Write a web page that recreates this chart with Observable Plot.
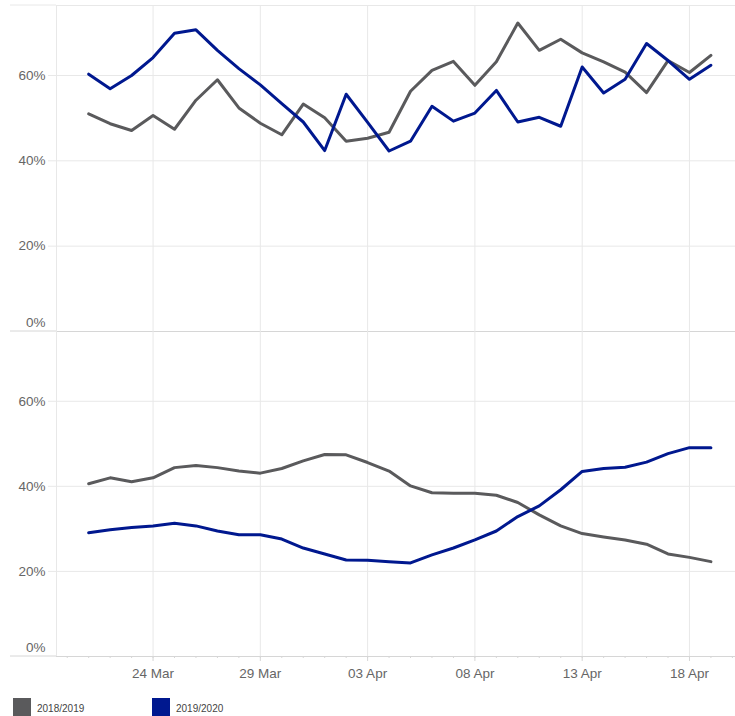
<!DOCTYPE html>
<html><head><meta charset="utf-8">
<script src="https://cdn.jsdelivr.net/npm/d3@7"></script>
<script src="https://cdn.jsdelivr.net/npm/@observablehq/plot@0.6"></script>
<style>
body{margin:0;background:#fff;font-family:"Liberation Sans",Arial,sans-serif;}
#chart{position:relative;width:735px;height:716px;overflow:hidden;background:#fff}
#chart svg{position:absolute;left:0;overflow:visible}
.sw{position:absolute;width:18px;height:18px}
.lt{position:absolute;font-size:10px;line-height:12px;color:#444;white-space:nowrap}
</style>
</head><body><div id="chart"></div>
<script>
// ---- data ----
const dates = ["2020-03-21","2020-03-22","2020-03-23","2020-03-24","2020-03-25","2020-03-26","2020-03-27","2020-03-28","2020-03-29","2020-03-30",
  "2020-03-31","2020-04-01","2020-04-02","2020-04-03","2020-04-04","2020-04-05","2020-04-06","2020-04-07","2020-04-08","2020-04-09",
  "2020-04-10","2020-04-11","2020-04-12","2020-04-13","2020-04-14","2020-04-15","2020-04-16","2020-04-17","2020-04-18","2020-04-19"];
const seriesNames = ["2018/2019","2019/2020"];
const seriesColors = ["#5a5a5c","#00188f"];
const topGray = [51.0,48.7,47.1,50.6,47.4,54.2,59.0,52.4,48.8,46.1,53.3,50.1,44.6,45.3,46.7,56.3,61.2,63.3,57.7,63.2,72.3,65.9,68.5,65.3,63.2,60.8,56.0,63.5,60.7,64.7];
const topBlue = [60.3,56.9,60.0,64.2,69.9,70.7,65.9,61.6,57.8,53.4,49.1,42.4,55.6,49.0,42.3,44.6,52.8,49.3,51.2,56.5,49.1,50.2,48.1,62.0,55.9,59.1,67.5,63.5,59.1,62.4];
const botGray = [40.6,42.0,41.1,42.0,44.4,44.9,44.4,43.6,43.1,44.2,46.0,47.5,47.4,45.6,43.6,40.1,38.5,38.4,38.4,37.9,36.2,33.3,30.7,28.9,28.1,27.4,26.4,24.1,23.3,22.3];
const botBlue = [29.1,29.8,30.3,30.7,31.3,30.7,29.5,28.6,28.6,27.6,25.5,24.1,22.7,22.6,22.3,22.0,23.9,25.5,27.4,29.5,32.9,35.4,39.2,43.5,44.2,44.5,45.7,47.7,49.1,49.1];
const tickDates = ["2020-03-24","2020-03-29","2020-04-03","2020-04-08","2020-04-13","2020-04-18"];
const tickLabels = ["24 Mar","29 Mar","03 Apr","08 Apr","13 Apr","18 Apr"];
const yTicks = [20,40,60];

// ---- build ----
const parse = d3.utcParse("%Y-%m-%d");
const X = dates.map(parse);
const tickX = tickDates.map(parse);
const labelOf = new Map(tickX.map((d,i)=>[+d, tickLabels[i]]));
function rows(g, b){
  return [...X.map((d,i)=>({date:d, v:g[i], s:seriesNames[0]})), ...X.map((d,i)=>({date:d, v:b[i], s:seriesNames[1]}))];
}
const xDomain = [new Date(Date.UTC(2020,2,19,12)), new Date(Date.UTC(2020,3,20,3,30))];
const yDomain = [0, 76.4];
const minorDays = d3.utcDay.range(new Date(Date.UTC(2020,2,20)), new Date(Date.UTC(2020,3,21)));
const font = {fontFamily:"'Liberation Sans', Arial, sans-serif", fontSize:"13.5px", background:"transparent"};
const colorScale = {domain: seriesNames, range: seriesColors};
const grid = "#e8e8e8";
const base = "#d6d6d6";
const pctFmt = d => d + "%";

function panel(data, opts){
  return Plot.plot({
    width:735, height:opts.height, marginLeft:56, marginRight:0, marginTop:opts.marginTop, marginBottom:opts.marginBottom,
    style: font,
    x:{type:"utc", domain:xDomain, axis:null},
    y:{domain:yDomain, axis:null},
    color: colorScale,
    marks:[
      Plot.gridY(yTicks, {stroke:grid, strokeOpacity:1}),
      Plot.gridX(tickX, {stroke:grid, strokeOpacity:1}),
      Plot.ruleX([xDomain[0]], {stroke:grid}),
      Plot.axisY(yTicks, {anchor:"left", label:null, tickSize:8, tickPadding:3, stroke:grid, strokeOpacity:1, tickFormat:pctFmt, fill:"#666", fontSize:13.5}),
      Plot.axisY([0], {anchor:"left", label:null, tickSize:0, tickPadding:11, tickFormat:pctFmt, fill:"#666", fontSize:13.5, dy:-9}),
      ...(opts.extra || []),
      Plot.ruleY([0], {stroke:base}),
      Plot.lineY(data, {x:"date", y:"v", stroke:"s", strokeWidth:3, strokeLinejoin:"round", strokeLinecap:"round"})
    ]
  });
}

const chartEl = document.getElementById("chart");

const topPlot = panel(rows(topGray, topBlue), {height:332, marginTop:5, marginBottom:1,
  extra:[Plot.ruleY([yDomain[1]], {stroke:grid})]});
topPlot.style.top = "0px";
chartEl.appendChild(topPlot);

const botPlot = panel(rows(botGray, botBlue), {height:385, marginTop:0, marginBottom:60,
  extra:[
    Plot.axisX(minorDays, {anchor:"bottom", label:null, tickSize:2, tickFormat:()=>"", stroke:base}),
    Plot.axisX(tickX, {anchor:"bottom", label:null, tickSize:5, tickPadding:7, tickFormat:d=>labelOf.get(+d), stroke:base, fill:"#666", fontSize:13.5})
  ]});
botPlot.style.top = "331px";
chartEl.appendChild(botPlot);

// extend frame lines into left margin (using the plot's own scales)
function extend(plot, vals, color){
  const ys = plot.scale("y"), xs = plot.scale("x");
  const x0 = xs.apply(xDomain[0]);
  vals.forEach(v=>{
    const y = ys.apply(v);
    d3.select(plot).append("line").attr("x1",10).attr("x2",x0).attr("y1",y).attr("y2",y)
      .attr("stroke",color).attr("stroke-width",1);
  });
}
extend(topPlot, [yDomain[1]], grid);
extend(topPlot, [0], base);
extend(botPlot, [0], base);

// legend
seriesNames.forEach((n,i)=>{
  const left = [13,152][i];
  const sw = document.createElement("div"); sw.className="sw";
  sw.style.left = left+"px"; sw.style.top="698px"; sw.style.background = seriesColors[i];
  chartEl.appendChild(sw);
  const t = document.createElement("div"); t.className="lt";
  t.style.left = (left+24)+"px"; t.style.top = "703px"; t.textContent = n;
  chartEl.appendChild(t);
});
</script>
</body></html>
